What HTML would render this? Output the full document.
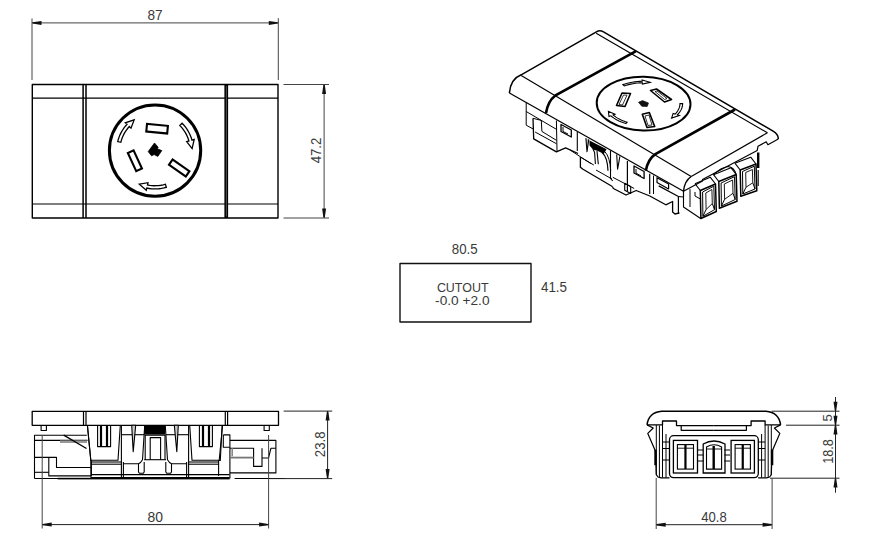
<!DOCTYPE html>
<html><head><meta charset="utf-8"><style>
html,body{margin:0;padding:0;background:#fff;width:878px;height:547px;overflow:hidden}
svg{display:block}
text{font-family:"Liberation Sans",sans-serif}
</style></head><body>
<svg width="878" height="547" viewBox="0 0 878 547">
<rect width="878" height="547" fill="#fff"/>
<polygon points="32.3,84.5 278,84.5 278,218 32.3,218" fill="none" stroke="#000" stroke-width="1.4" stroke-linejoin="round"/>
<line x1="32.3" y1="98.2" x2="278" y2="98.2" stroke="#000" stroke-width="1.2"/>
<line x1="32.3" y1="204" x2="278" y2="204" stroke="#000" stroke-width="1.2"/>
<line x1="83.1" y1="84.5" x2="83.1" y2="218" stroke="#000" stroke-width="1.5"/>
<line x1="86.0" y1="84.5" x2="86.0" y2="218" stroke="#000" stroke-width="1.5"/>
<rect x="224.4" y="84.5" width="3.7" height="133.5" fill="#000"/>
<rect x="225.9" y="86" width="0.8" height="130.5" fill="#666"/>
<circle cx="155.05" cy="150.55" r="45.65" fill="none" stroke="#000" stroke-width="3.0"/>
<rect x="146.60" y="124.90" width="21" height="7.6" fill="none" stroke="#000" stroke-width="2.1" transform="rotate(5.5 157.1 128.7)"/>
<rect x="124.90" y="157.55" width="20" height="6.3" fill="none" stroke="#000" stroke-width="2.1" transform="rotate(65.3 134.9 160.7)"/>
<rect x="168.95" y="164.85" width="20.5" height="6.3" fill="none" stroke="#000" stroke-width="2.1" transform="rotate(35 179.2 168.0)"/>
<polygon points="154.5,143 158.2,147.3 157.2,148.8 161.8,150.6 157.8,156.4 154.2,154.6 151.5,155.8 148.2,151.6" fill="#000" stroke="#000" stroke-width="0.8" stroke-linejoin="round"/>
<path d="M166.34,187.25 L163.96,187.90 L161.54,188.40 L159.09,188.74 L156.62,188.92 L154.15,188.94 L151.69,188.80 L149.23,188.51 L146.80,188.05 L146.31,190.30 L139.31,184.15 L147.99,182.68 L147.49,184.93 L149.72,185.34 L151.97,185.61 L154.23,185.74 L156.49,185.72 L158.75,185.55 L161.00,185.24 L163.21,184.79 L165.40,184.19Z" fill="#fff" stroke="#000" stroke-width="1.3" stroke-linejoin="miter"/>
<path d="M117.71,141.59 L118.36,139.20 L119.17,136.87 L120.12,134.59 L121.22,132.37 L122.46,130.24 L123.84,128.18 L125.34,126.22 L126.97,124.36 L125.28,122.79 L134.14,119.90 L130.99,128.11 L129.31,126.54 L127.82,128.25 L126.44,130.05 L125.18,131.93 L124.04,133.89 L123.04,135.92 L122.16,138.01 L121.42,140.15 L120.82,142.33Z" fill="#fff" stroke="#000" stroke-width="1.3" stroke-linejoin="miter"/>
<path d="M182.06,123.26 L183.76,125.05 L185.34,126.95 L186.80,128.95 L188.12,131.03 L189.31,133.20 L190.35,135.44 L191.25,137.74 L192.00,140.09 L194.21,139.47 L192.10,148.54 L186.71,141.59 L188.92,140.97 L188.23,138.81 L187.41,136.70 L186.45,134.64 L185.36,132.66 L184.15,130.75 L182.82,128.92 L181.37,127.17 L179.81,125.53Z" fill="#fff" stroke="#000" stroke-width="1.3" stroke-linejoin="miter"/>
<line x1="32" y1="18.5" x2="32" y2="80" stroke="#444" stroke-width="1"/>
<line x1="278.3" y1="18.2" x2="278.3" y2="80" stroke="#444" stroke-width="1"/>
<line x1="32" y1="22.9" x2="278.3" y2="22.9" stroke="#444" stroke-width="1"/>
<polygon points="32.50,22.20 41.50,20.90 41.50,24.90 32.50,23.60" fill="#111"/>
<polygon points="277.80,23.60 268.80,24.90 268.80,20.90 277.80,22.20" fill="#111"/>
<line x1="283.5" y1="84.5" x2="329" y2="84.5" stroke="#444" stroke-width="1"/>
<line x1="283.5" y1="218" x2="329" y2="218" stroke="#444" stroke-width="1"/>
<line x1="324.1" y1="84.5" x2="324.1" y2="218" stroke="#444" stroke-width="1"/>
<polygon points="324.80,85.00 326.10,94.00 322.10,94.00 323.40,85.00" fill="#111"/>
<polygon points="323.40,217.50 322.10,208.50 326.10,208.50 324.80,217.50" fill="#111"/>
<path d="M509.4,93 Q510.5,79 521.2,74.8 L596.4,31.8 Q599.8,29.8 603.5,31.8 L773.1,131.1 Q778.6,134.5 778.3,139" fill="none" stroke="#000" stroke-width="1.5" />
<path d="M596.2,33.2 L767.4,132.8" fill="none" stroke="#000" stroke-width="1.2" />
<path d="M767.4,132.8 L691.2,176.5" fill="none" stroke="#000" stroke-width="1.2" />
<path d="M521.2,75.4 L691.2,176.5" fill="none" stroke="#000" stroke-width="1.2" />
<path d="M691.2,176.5 Q684.5,181 683.5,191.2" fill="none" stroke="#000" stroke-width="1.5" />
<path d="M509.4,93 L683.5,191.2" fill="none" stroke="#000" stroke-width="1.3" />
<polyline points="683.5,191.2 702.5,181 702.5,179.5 757.2,150.5 758,146.3 766.2,141.8 767.9,144.7 778.3,139" fill="none" stroke="#000" stroke-width="1.2" stroke-linejoin="round"/>
<path d="M636,51.1 L555.1,95.7 Q548,101 546,113" fill="none" stroke="#000" stroke-width="2.6" />
<path d="M735,109.5 L655.4,154.1 Q648,159 645.8,170.7" fill="none" stroke="#000" stroke-width="2.6" />
<ellipse cx="643.6" cy="103.6" rx="46.9" ry="26.9" transform="rotate(1.2 643.6 103.6)" fill="none" stroke="#000" stroke-width="2.0"/>
<polygon points="616.5,105.5 622,93 630.5,93.5 625,106.5" fill="none" stroke="#000" stroke-width="1.6" stroke-linejoin="round"/>
<polygon points="619,104.5 623.5,95 627,95.2 622.5,105" fill="none" stroke="#000" stroke-width="0.8" stroke-linejoin="round"/>
<polygon points="650.5,90.5 656.5,89 671.5,99.5 664.5,102" fill="none" stroke="#000" stroke-width="1.6" stroke-linejoin="round"/>
<polygon points="655,91.5 657,91 667,98.5 664.5,99.5" fill="none" stroke="#000" stroke-width="0.8" stroke-linejoin="round"/>
<polygon points="642.3,114.2 649.3,112.5 654.7,126.5 647,127.5" fill="none" stroke="#000" stroke-width="1.6" stroke-linejoin="round"/>
<polygon points="645,116 649,115 652,125 648,125.5" fill="none" stroke="#000" stroke-width="0.8" stroke-linejoin="round"/>
<polygon points="638.5,102.2 642.5,100.6 648.5,103 647.2,106.6 641.8,106.3" fill="#111" stroke="#000" stroke-width="0.6" stroke-linejoin="round"/>
<path d="M622.92,84.64 L625.13,83.91 L627.42,83.26 L629.78,82.69 L632.19,82.22 L634.66,81.84 L637.16,81.55 L639.69,81.36 L642.24,81.26 L642.16,79.96 L650.15,82.33 L642.41,84.06 L642.33,82.77 L639.96,82.86 L637.60,83.04 L635.26,83.31 L632.96,83.67 L630.71,84.11 L628.51,84.63 L626.38,85.24 L624.32,85.92Z" fill="#fff" stroke="#000" stroke-width="1.1" stroke-linejoin="miter"/>
<path d="M682.62,103.60 L682.54,105.06 L682.29,106.52 L681.87,107.96 L681.29,109.39 L680.55,110.79 L679.65,112.16 L678.60,113.49 L677.39,114.78 L679.35,115.43 L671.62,118.05 L673.15,113.37 L675.11,114.02 L676.23,112.82 L677.21,111.58 L678.05,110.30 L678.74,108.99 L679.28,107.67 L679.67,106.32 L679.90,104.96 L679.98,103.60Z" fill="#fff" stroke="#000" stroke-width="1.1" stroke-linejoin="miter"/>
<path d="M625.89,123.52 L623.65,122.81 L621.50,122.02 L619.44,121.16 L617.49,120.21 L615.65,119.20 L613.93,118.12 L612.34,116.98 L610.88,115.78 L608.98,116.48 L608.40,111.34 L614.99,114.25 L613.09,114.95 L614.45,116.07 L615.94,117.14 L617.54,118.14 L619.26,119.09 L621.08,119.97 L622.99,120.78 L625.00,121.51 L627.08,122.17Z" fill="#fff" stroke="#000" stroke-width="1.1" stroke-linejoin="miter"/>
<polyline points="526.2,102.5 526.2,125.2 533.2,129" fill="none" stroke="#000" stroke-width="1.0" stroke-linejoin="round"/>
<polyline points="526.2,111.5 556.4,129.3" fill="none" stroke="#000" stroke-width="1.0" stroke-linejoin="round"/>
<polyline points="533,118.3 541.3,120.4 541.9,131.4 556.4,140.3" fill="none" stroke="#000" stroke-width="1.0" stroke-linejoin="round"/>
<polyline points="533,118.3 533.7,138.9 556.4,151.9 565.6,147.8 578.1,153.5" fill="none" stroke="#000" stroke-width="1.3" stroke-linejoin="round"/>
<polyline points="535.1,132 556.4,143.7" fill="none" stroke="#000" stroke-width="1.0" stroke-linejoin="round"/>
<polyline points="556.4,120.5 557,151.2" fill="none" stroke="#000" stroke-width="1.0" stroke-linejoin="round"/>
<polygon points="561,124.5 571.3,130 571.3,137 561,131.5" fill="none" stroke="#000" stroke-width="1.3" stroke-linejoin="round"/>
<polyline points="563,127 563,131.5 568,134" fill="none" stroke="#000" stroke-width="1.0" stroke-linejoin="round"/>
<polyline points="577.3,132.1 577.3,151" fill="none" stroke="#000" stroke-width="1.1" stroke-linejoin="round"/>
<polyline points="570,150 591,163.7" fill="none" stroke="#000" stroke-width="1.0" stroke-linejoin="round"/>
<polyline points="580.4,157 580.4,167.2 583,169.3 612.3,186.5" fill="none" stroke="#000" stroke-width="1.3" stroke-linejoin="round"/>
<polyline points="581,157.5 593.8,165" fill="none" stroke="#000" stroke-width="1.0" stroke-linejoin="round"/>
<polygon points="589.5,140.5 606.5,149.3 603.8,154 598,151 593,149.5 589.5,145.5" fill="#000"/>
<polyline points="585.9,138.2 587,151.7 588.8,139.3" fill="#bbb" stroke="#000" stroke-width="1.1" stroke-linejoin="round"/>
<polyline points="593,149 594.6,152.5 595.4,164" fill="none" stroke="#000" stroke-width="1.1" stroke-linejoin="round"/>
<polyline points="597,151 598.3,164.2" fill="none" stroke="#000" stroke-width="1.1" stroke-linejoin="round"/>
<path d="M602,152.5 Q607.5,157 608,170.8" fill="none" stroke="#000" stroke-width="1.2" />
<path d="M604.9,151.7 Q610,157 610.7,170.8" fill="none" stroke="#000" stroke-width="1.0" />
<polyline points="616.7,154.5 617.6,169.2 619.9,156.4" fill="none" stroke="#000" stroke-width="1.1" stroke-linejoin="round"/>
<polyline points="627.4,161 627.4,191.5" fill="none" stroke="#000" stroke-width="1.2" stroke-linejoin="round"/>
<polyline points="612.3,186.5 613.4,188.5 626,195 636.2,190.5 649.8,196" fill="none" stroke="#000" stroke-width="1.3" stroke-linejoin="round"/>
<polygon points="634,166 644.1,171.5 644.1,178.5 634,173" fill="none" stroke="#000" stroke-width="1.3" stroke-linejoin="round"/>
<polyline points="636,169 636,173 641,176" fill="none" stroke="#000" stroke-width="1.0" stroke-linejoin="round"/>
<polyline points="596,170 612,179" fill="none" stroke="#000" stroke-width="1.0" stroke-linejoin="round"/>
<polyline points="610.5,150.5 610.5,178.5 612.8,181" fill="none" stroke="#000" stroke-width="1.1" stroke-linejoin="round"/>
<polygon points="624.7,183.3 630.7,186.5 630.7,193.4 624.7,190.2" fill="none" stroke="#000" stroke-width="1.1" stroke-linejoin="round"/>
<polyline points="612.8,177.3 634.2,188.5" fill="none" stroke="#000" stroke-width="1.0" stroke-linejoin="round"/>
<polyline points="649.7,173.8 649.7,194.1" fill="none" stroke="#000" stroke-width="1.2" stroke-linejoin="round"/>
<polyline points="653.5,175.5 653.5,194" fill="none" stroke="#000" stroke-width="1.0" stroke-linejoin="round"/>
<polygon points="657,177.7 668.6,184 668.6,189 657,182.5" fill="none" stroke="#000" stroke-width="1.2" stroke-linejoin="round"/>
<polyline points="658.7,185.9 678.4,196.5 678.4,213.9" fill="none" stroke="#000" stroke-width="1.2" stroke-linejoin="round"/>
<polyline points="649.8,196 665.8,204.8 672.6,201.5 672.6,212 675,214 679.5,212.8" fill="none" stroke="#000" stroke-width="1.3" stroke-linejoin="round"/>
<polyline points="683.5,191.2 683.5,197 678.4,196.5" fill="none" stroke="#000" stroke-width="1.1" stroke-linejoin="round"/>
<polyline points="734.9000000000001,163.2 750.7,157.2 756,164" fill="none" stroke="#000" stroke-width="1.1" stroke-linejoin="round"/>
<polygon points="740.2,170 756,164 756.8,190.8 740.8000000000001,196.2" fill="#fff" stroke="#000" stroke-width="1.5" stroke-linejoin="round"/>
<polyline points="740.2,170 734.9000000000001,163.2" fill="none" stroke="#000" stroke-width="1.1" stroke-linejoin="round"/>
<polygon points="742.5,171.5 754.3,166.2 755.0,189.0 742.8000000000001,194.0" fill="none" stroke="#000" stroke-width="1.0" stroke-linejoin="round"/>
<polygon points="745.7,172.5 752.4,169.5 752.8,182.8 746.0,187.2" fill="none" stroke="#000" stroke-width="0.9" stroke-linejoin="round"/>
<polyline points="746.0,187.2 742.8000000000001,194.0" fill="none" stroke="#000" stroke-width="1.0" stroke-linejoin="round"/>
<polyline points="752.8,182.8 755.0,189.0" fill="none" stroke="#000" stroke-width="1.0" stroke-linejoin="round"/>
<polyline points="713.5,174.7 730.9000000000001,167.7 736.2,174.5" fill="none" stroke="#000" stroke-width="1.1" stroke-linejoin="round"/>
<polygon points="718.8,181.5 736.2,174.5 737.0,201.3 719.4,208.3" fill="#fff" stroke="#000" stroke-width="1.5" stroke-linejoin="round"/>
<polyline points="718.8,181.5 713.5,174.7" fill="none" stroke="#000" stroke-width="1.1" stroke-linejoin="round"/>
<polygon points="721.0999999999999,183.0 734.5,176.7 735.2,199.5 721.4,206.10000000000002" fill="none" stroke="#000" stroke-width="1.0" stroke-linejoin="round"/>
<polygon points="724.3,184.0 732.6,180.0 733.0,193.3 724.5999999999999,199.3" fill="none" stroke="#000" stroke-width="0.9" stroke-linejoin="round"/>
<polyline points="724.5999999999999,199.3 721.4,206.10000000000002" fill="none" stroke="#000" stroke-width="1.0" stroke-linejoin="round"/>
<polyline points="733.0,193.3 735.2,199.5" fill="none" stroke="#000" stroke-width="1.0" stroke-linejoin="round"/>
<polyline points="695.0,183.7 710.2,177.2 715.5,184" fill="none" stroke="#000" stroke-width="1.1" stroke-linejoin="round"/>
<polygon points="700.3,190.5 715.5,184 716.3,211.5 700.9,218.5" fill="#fff" stroke="#000" stroke-width="1.5" stroke-linejoin="round"/>
<polyline points="700.3,190.5 695.0,183.7" fill="none" stroke="#000" stroke-width="1.1" stroke-linejoin="round"/>
<polygon points="702.5999999999999,192.0 713.8,186.2 714.5,209.7 702.9,216.3" fill="none" stroke="#000" stroke-width="1.0" stroke-linejoin="round"/>
<polygon points="705.8,193.0 711.9,189.5 712.3,203.5 706.0999999999999,209.5" fill="none" stroke="#000" stroke-width="0.9" stroke-linejoin="round"/>
<polyline points="706.0999999999999,209.5 702.9,216.3" fill="none" stroke="#000" stroke-width="1.0" stroke-linejoin="round"/>
<polyline points="712.3,203.5 714.5,209.7" fill="none" stroke="#000" stroke-width="1.0" stroke-linejoin="round"/>
<path d="M713.5,174.7 Q721,167.5 728,166.5 Q734,167 736.2,174.5" fill="none" stroke="#000" stroke-width="1.1" />
<polyline points="758.2,152.5 758.2,168" fill="none" stroke="#000" stroke-width="2.4" stroke-linejoin="round"/>
<polyline points="758.2,170 758.2,186" fill="none" stroke="#000" stroke-width="1.1" stroke-linejoin="round"/>
<polyline points="683.5,191.2 683.5,207 701,218.7" fill="none" stroke="#000" stroke-width="1.1" stroke-linejoin="round"/>
<polyline points="690,189.1 690,207" fill="none" stroke="#000" stroke-width="1.0" stroke-linejoin="round"/>
<polyline points="695,192 695,196 700.4,199" fill="none" stroke="#000" stroke-width="1.0" stroke-linejoin="round"/>
<polygon points="400,263.5 531,263.5 531,322 400,322" fill="none" stroke="#111" stroke-width="1.4" stroke-linejoin="round"/>
<polygon points="32.2,411.3 278.5,411.3 278.5,425.3 32.2,425.3" fill="none" stroke="#000" stroke-width="1.3" stroke-linejoin="round"/>
<line x1="83.5" y1="411.3" x2="83.5" y2="425.3" stroke="#000" stroke-width="1.2"/>
<line x1="86.0" y1="411.3" x2="86.0" y2="425.3" stroke="#000" stroke-width="1.2"/>
<line x1="225.3" y1="411.3" x2="225.3" y2="425.3" stroke="#000" stroke-width="1.2"/>
<line x1="227.6" y1="411.3" x2="227.6" y2="425.3" stroke="#000" stroke-width="1.2"/>
<polyline points="41.1,425.3 41.1,430.5 46.4,430.5 46.4,425.3" fill="none" stroke="#000" stroke-width="1.1" stroke-linejoin="round"/>
<polyline points="264.1,425.3 264.1,430.5 269.3,430.5 269.3,425.3" fill="none" stroke="#000" stroke-width="1.1" stroke-linejoin="round"/>
<polyline points="34.5,478.5 34.5,435.2 86.8,435.2" fill="none" stroke="#000" stroke-width="1.1" stroke-linejoin="round"/>
<polyline points="34.5,440.4 87.5,440.4" fill="none" stroke="#000" stroke-width="1.1" stroke-linejoin="round"/>
<rect x="60" y="440.4" width="27" height="2.6" fill="#999"/>
<polyline points="63.7,435.2 86.5,448.5" fill="none" stroke="#000" stroke-width="1.4" stroke-linejoin="round"/>
<polyline points="34.5,457.4 56.5,457.4 56.5,467.5 91,467.5" fill="none" stroke="#000" stroke-width="1.1" stroke-linejoin="round"/>
<polyline points="48.8,457.4 48.8,475.9 91,475.9" fill="none" stroke="#000" stroke-width="1.1" stroke-linejoin="round"/>
<polyline points="34.5,472.3 48.8,472.3" fill="none" stroke="#000" stroke-width="1.1" stroke-linejoin="round"/>
<polyline points="34.5,478.5 91,478.5" fill="none" stroke="#000" stroke-width="1.1" stroke-linejoin="round"/>
<polyline points="87.4,425.3 90.8,460.2 91,478.5" fill="none" stroke="#000" stroke-width="1.1" stroke-linejoin="round"/>
<polyline points="87.4,425.3 90.8,460.2 118,460.2 120.3,425.3" fill="none" stroke="#000" stroke-width="1.1" stroke-linejoin="round"/>
<polyline points="222.6,425.3 219.2,460.2 192.0,460.2 189.7,425.3" fill="none" stroke="#000" stroke-width="1.1" stroke-linejoin="round"/>
<polyline points="97.6,425.3 97.6,446.6 110.6,446.6 110.6,425.3" fill="none" stroke="#000" stroke-width="1.1" stroke-linejoin="round"/>
<polyline points="212.4,425.3 212.4,446.6 199.4,446.6 199.4,425.3" fill="none" stroke="#000" stroke-width="1.1" stroke-linejoin="round"/>
<polyline points="101,425.3 101,446.6" fill="none" stroke="#000" stroke-width="2.2" stroke-linejoin="round"/>
<polyline points="209.0,425.3 209.0,446.6" fill="none" stroke="#000" stroke-width="2.2" stroke-linejoin="round"/>
<polyline points="107,425.3 107,446.6" fill="none" stroke="#000" stroke-width="2.2" stroke-linejoin="round"/>
<polyline points="203.0,425.3 203.0,446.6" fill="none" stroke="#000" stroke-width="2.2" stroke-linejoin="round"/>
<polyline points="91.4,462 121.4,462" fill="none" stroke="#000" stroke-width="1.1" stroke-linejoin="round"/>
<polyline points="218.6,462 188.6,462" fill="none" stroke="#000" stroke-width="1.1" stroke-linejoin="round"/>
<polyline points="91.4,464.2 121.4,464.2" fill="none" stroke="#000" stroke-width="1.1" stroke-linejoin="round"/>
<polyline points="218.6,464.2 188.6,464.2" fill="none" stroke="#000" stroke-width="1.1" stroke-linejoin="round"/>
<polyline points="91.4,460.2 91.4,476" fill="none" stroke="#000" stroke-width="1.1" stroke-linejoin="round"/>
<polyline points="218.6,460.2 218.6,476" fill="none" stroke="#000" stroke-width="1.1" stroke-linejoin="round"/>
<polyline points="121.4,425.3 121.4,478" fill="none" stroke="#000" stroke-width="1.1" stroke-linejoin="round"/>
<polyline points="188.6,425.3 188.6,478" fill="none" stroke="#000" stroke-width="1.1" stroke-linejoin="round"/>
<polyline points="123.4,462 123.4,478" fill="none" stroke="#000" stroke-width="1.1" stroke-linejoin="round"/>
<polyline points="186.6,462 186.6,478" fill="none" stroke="#000" stroke-width="1.1" stroke-linejoin="round"/>
<polyline points="121.4,434.7 144.2,434.7" fill="none" stroke="#000" stroke-width="1.1" stroke-linejoin="round"/>
<polyline points="188.6,434.7 165.8,434.7" fill="none" stroke="#000" stroke-width="1.1" stroke-linejoin="round"/>
<polyline points="144.7,425.7 142.5,459.7 140.5,462.5 138.5,463.7 123.4,463.7" fill="none" stroke="#000" stroke-width="1.1" stroke-linejoin="round"/>
<polyline points="165.3,425.7 167.5,459.7 169.5,462.5 171.5,463.7 186.6,463.7" fill="none" stroke="#000" stroke-width="1.1" stroke-linejoin="round"/>
<polygon points="131.7,425.3 133.2,451.7 135.7,425.3" fill="#ccc" stroke="#000" stroke-width="1.1" stroke-linejoin="round"/>
<polygon points="178.3,425.3 176.8,451.7 174.3,425.3" fill="#ccc" stroke="#000" stroke-width="1.1" stroke-linejoin="round"/>
<polyline points="138.5,463.7 138.5,472 139.5,473.3 143.2,473.3 144.2,472 144.2,462" fill="none" stroke="#000" stroke-width="1.1" stroke-linejoin="round"/>
<polyline points="171.5,463.7 171.5,472 170.5,473.3 166.8,473.3 165.8,472 165.8,462" fill="none" stroke="#000" stroke-width="1.1" stroke-linejoin="round"/>
<rect x="144.2" y="425.3" width="20.9" height="9.4" fill="#000"/>
<polyline points="145.2,459.7 145.2,435.3 165,435.3 165,459.7" fill="none" stroke="#000" stroke-width="1.1" stroke-linejoin="round"/>
<polyline points="150.2,459.7 150.2,437.6 160.6,437.6 160.6,459.7" fill="none" stroke="#000" stroke-width="1.1" stroke-linejoin="round"/>
<polyline points="144.2,459.7 166,459.7" fill="none" stroke="#000" stroke-width="1.1" stroke-linejoin="round"/>
<polyline points="91,474.6 229.5,474.6" fill="none" stroke="#000" stroke-width="1.1" stroke-linejoin="round"/>
<polyline points="91,477.5 229.5,477.5" fill="none" stroke="#000" stroke-width="1.1" stroke-linejoin="round"/>
<rect x="57.7" y="477.8" width="172" height="1.6" fill="#000"/>
<polyline points="222.1,425.9 220.3,460.4 219,460.4" fill="none" stroke="#000" stroke-width="1.1" stroke-linejoin="round"/>
<polyline points="223.3,434.9 229.9,434.9 229.9,478.5" fill="none" stroke="#000" stroke-width="1.1" stroke-linejoin="round"/>
<polyline points="223.3,434.9 223.3,447.3 229.9,447.3" fill="none" stroke="#000" stroke-width="1.1" stroke-linejoin="round"/>
<polyline points="229.9,440.4 275.9,440.4 275.9,472.9 229.9,472.9" fill="none" stroke="#000" stroke-width="1.1" stroke-linejoin="round"/>
<polyline points="229.9,448.3 253.6,448.3 253.6,466.4 262,466.4 262,448.3" fill="none" stroke="#000" stroke-width="1.1" stroke-linejoin="round"/>
<polyline points="262,458 268.5,458 270.9,448.3 275.9,448.3" fill="none" stroke="#000" stroke-width="1.1" stroke-linejoin="round"/>
<rect x="231.4" y="448.3" width="1.6" height="8" fill="#888"/>
<rect x="229.9" y="456.7" width="23.7" height="1.8" fill="#777"/>
<polyline points="234.6,478.5 285,478.5" fill="none" stroke="#000" stroke-width="1.1" stroke-linejoin="round"/>
<line x1="283.7" y1="411.1" x2="332.2" y2="411.1" stroke="#222" stroke-width="1"/>
<line x1="270" y1="478.6" x2="332.2" y2="478.6" stroke="#222" stroke-width="1"/>
<line x1="327.6" y1="411.1" x2="327.6" y2="478.6" stroke="#222" stroke-width="1"/>
<polygon points="328.30,411.60 329.60,420.60 325.60,420.60 326.90,411.60" fill="#111"/>
<polygon points="326.90,478.10 325.60,469.10 329.60,469.10 328.30,478.10" fill="#111"/>
<line x1="42.2" y1="435.5" x2="42.2" y2="528.5" stroke="#444" stroke-width="1"/>
<line x1="268.6" y1="435" x2="268.6" y2="528.5" stroke="#444" stroke-width="1"/>
<line x1="42.2" y1="524.6" x2="268.6" y2="524.6" stroke="#222" stroke-width="1"/>
<polygon points="42.70,523.90 51.70,522.60 51.70,526.60 42.70,525.30" fill="#111"/>
<polygon points="268.10,525.30 259.10,526.60 259.10,522.60 268.10,523.90" fill="#111"/>
<path d="M647,424.9 C648,417 652,412 661.7,411.2 L765.9,411.2 C775.6,412 779.6,417 780.6,424.9" fill="none" stroke="#000" stroke-width="1.5" />
<polyline points="647,424.9 662.5,424.9 662.5,421 676.5,421 676.5,425.6 681.2,425.6 713.8,425.6" fill="none" stroke="#000" stroke-width="1.3" stroke-linejoin="round"/>
<polyline points="780.5999999999999,424.9 765.0999999999999,424.9 765.0999999999999,421 751.0999999999999,421 751.0999999999999,425.6 746.3999999999999,425.6 713.8,425.6" fill="none" stroke="#000" stroke-width="1.3" stroke-linejoin="round"/>
<polyline points="681.2,425.6 681.2,430.3 713.8,430.3" fill="none" stroke="#000" stroke-width="1.2" stroke-linejoin="round"/>
<polyline points="746.3999999999999,425.6 746.3999999999999,430.3 713.8,430.3" fill="none" stroke="#000" stroke-width="1.2" stroke-linejoin="round"/>
<rect x="669.5" y="435.7" width="88.8" height="41.9" rx="4" fill="none" stroke="#000" stroke-width="1.3"/>
<rect x="673.4" y="440.4" width="24.100000000000023" height="32.6" fill="none" stroke="#000" stroke-width="1.3"/>
<rect x="677.4" y="444.6" width="16.100000000000023" height="24.5" fill="none" stroke="#000" stroke-width="1.1"/>
<rect x="684.35" y="445" width="2.2" height="24" fill="#000"/>
<line x1="677.4" y1="448.2" x2="693.5" y2="448.2" stroke="#000" stroke-width="0.9"/>
<rect x="731.1" y="440.4" width="23.299999999999955" height="32.6" fill="none" stroke="#000" stroke-width="1.3"/>
<rect x="735.1" y="444.6" width="15.299999999999955" height="24.5" fill="none" stroke="#000" stroke-width="1.1"/>
<rect x="741.65" y="445" width="2.2" height="24" fill="#000"/>
<line x1="735.1" y1="448.2" x2="750.4" y2="448.2" stroke="#000" stroke-width="0.9"/>
<path d="M703.2,473 L703.2,444 Q714,438 725,444 L725,473 Z" fill="none" stroke="#000" stroke-width="1.3" />
<path d="M706.5,469.1 L706.5,447 Q714,442.5 721.6,447 L721.6,469.1 Z" fill="none" stroke="#000" stroke-width="1.1" />
<rect x="712.5" y="446" width="2.4" height="23" fill="#000"/>
<line x1="706.5" y1="449" x2="721.6" y2="449" stroke="#000" stroke-width="0.9"/>
<polyline points="647,424.9 653.2,428 647.8,433.4 655.5,451.3 656.3,474.6 658,477 661,477.8 669.5,477.8" fill="none" stroke="#000" stroke-width="1.2" stroke-linejoin="round"/>
<polyline points="780.5999999999999,424.9 774.3999999999999,428 779.8,433.4 772.0999999999999,451.3 771.3,474.6 769.5999999999999,477 766.5999999999999,477.8 758.0999999999999,477.8" fill="none" stroke="#000" stroke-width="1.2" stroke-linejoin="round"/>
<polyline points="656.3,425 656.3,474.6" fill="none" stroke="#000" stroke-width="1.0" stroke-linejoin="round"/>
<polyline points="771.3,425 771.3,474.6" fill="none" stroke="#000" stroke-width="1.0" stroke-linejoin="round"/>
<polyline points="659.4,425.5 659.4,477.5" fill="none" stroke="#000" stroke-width="1.0" stroke-linejoin="round"/>
<polyline points="768.1999999999999,425.5 768.1999999999999,477.5" fill="none" stroke="#000" stroke-width="1.0" stroke-linejoin="round"/>
<polyline points="662.5,425 662.5,477.5" fill="none" stroke="#000" stroke-width="1.0" stroke-linejoin="round"/>
<polyline points="765.0999999999999,425 765.0999999999999,477.5" fill="none" stroke="#000" stroke-width="1.0" stroke-linejoin="round"/>
<polyline points="666,434 666,477.5" fill="none" stroke="#000" stroke-width="1.0" stroke-linejoin="round"/>
<polyline points="761.5999999999999,434 761.5999999999999,477.5" fill="none" stroke="#000" stroke-width="1.0" stroke-linejoin="round"/>
<polyline points="655.5,449.7 655.5,465.2" fill="none" stroke="#000" stroke-width="2.4" stroke-linejoin="round"/>
<polyline points="772.0999999999999,449.7 772.0999999999999,465.2" fill="none" stroke="#000" stroke-width="2.4" stroke-linejoin="round"/>
<polyline points="662.5,442 669.5,442" fill="none" stroke="#000" stroke-width="1.0" stroke-linejoin="round"/>
<polyline points="765.0999999999999,442 758.0999999999999,442" fill="none" stroke="#000" stroke-width="1.0" stroke-linejoin="round"/>
<polyline points="662.5,448.5 669.5,448.5" fill="none" stroke="#000" stroke-width="1.0" stroke-linejoin="round"/>
<polyline points="765.0999999999999,448.5 758.0999999999999,448.5" fill="none" stroke="#000" stroke-width="1.0" stroke-linejoin="round"/>
<polyline points="662.5,460 669.5,460" fill="none" stroke="#000" stroke-width="1.0" stroke-linejoin="round"/>
<polyline points="765.0999999999999,460 758.0999999999999,460" fill="none" stroke="#000" stroke-width="1.0" stroke-linejoin="round"/>
<polyline points="697.5,450 703.2,450" fill="none" stroke="#000" stroke-width="1.0" stroke-linejoin="round"/>
<polyline points="730.0999999999999,450 724.3999999999999,450" fill="none" stroke="#000" stroke-width="1.0" stroke-linejoin="round"/>
<polyline points="697.5,455 703.2,455" fill="none" stroke="#000" stroke-width="1.0" stroke-linejoin="round"/>
<polyline points="730.0999999999999,455 724.3999999999999,455" fill="none" stroke="#000" stroke-width="1.0" stroke-linejoin="round"/>
<polyline points="697.5,461 703.2,461" fill="none" stroke="#000" stroke-width="1.0" stroke-linejoin="round"/>
<polyline points="730.0999999999999,461 724.3999999999999,461" fill="none" stroke="#000" stroke-width="1.0" stroke-linejoin="round"/>
<line x1="771.7" y1="411.2" x2="839.5" y2="411.2" stroke="#222" stroke-width="1"/>
<line x1="786" y1="425.2" x2="839.5" y2="425.2" stroke="#222" stroke-width="1"/>
<line x1="770" y1="478.2" x2="839.5" y2="478.2" stroke="#222" stroke-width="1"/>
<line x1="835.5" y1="397" x2="835.5" y2="492.7" stroke="#222" stroke-width="1"/>
<polygon points="834.80,410.80 833.50,401.80 837.50,401.80 836.20,410.80" fill="#111"/>
<polygon points="834.80,424.80 833.50,415.80 837.50,415.80 836.20,424.80" fill="#111"/>
<polygon points="836.20,425.60 837.50,434.60 833.50,434.60 834.80,425.60" fill="#111"/>
<polygon points="836.20,478.60 837.50,487.60 833.50,487.60 834.80,478.60" fill="#111"/>
<line x1="656.2" y1="478" x2="656.2" y2="529" stroke="#444" stroke-width="1"/>
<line x1="772.1" y1="478" x2="772.1" y2="529" stroke="#444" stroke-width="1"/>
<line x1="656.2" y1="524.7" x2="772.1" y2="524.7" stroke="#222" stroke-width="1"/>
<polygon points="656.70,524.00 665.70,522.70 665.70,526.70 656.70,525.40" fill="#111"/>
<polygon points="771.60,525.40 762.60,526.70 762.60,522.70 771.60,524.00" fill="#111"/>
<text x="155" y="20.2" font-size="14" text-anchor="middle" fill="#3a3a3a" textLength="15.2" lengthAdjust="spacingAndGlyphs">87</text>
<text x="321.3" y="150.5" font-size="14" text-anchor="middle" fill="#3a3a3a" textLength="25.7" lengthAdjust="spacingAndGlyphs" transform="rotate(-90 321.3 150.5)">47.2</text>
<text x="464.7" y="253.9" font-size="14" text-anchor="middle" fill="#3a3a3a" textLength="25.8" lengthAdjust="spacingAndGlyphs">80.5</text>
<text x="554" y="292" font-size="14" text-anchor="middle" fill="#3a3a3a" textLength="26" lengthAdjust="spacingAndGlyphs">41.5</text>
<text x="462.7" y="292" font-size="13.5" text-anchor="middle" fill="#3a3a3a" textLength="51.6" lengthAdjust="spacingAndGlyphs">CUTOUT</text>
<text x="462.3" y="305.2" font-size="13.5" text-anchor="middle" fill="#3a3a3a" textLength="54.4" lengthAdjust="spacingAndGlyphs">-0.0 +2.0</text>
<text x="324.9" y="444.3" font-size="14" text-anchor="middle" fill="#3a3a3a" textLength="25.7" lengthAdjust="spacingAndGlyphs" transform="rotate(-90 324.9 444.3)">23.8</text>
<text x="155.2" y="522.1" font-size="14" text-anchor="middle" fill="#3a3a3a" textLength="15.5" lengthAdjust="spacingAndGlyphs">80</text>
<text x="831.9" y="417.85" font-size="13" text-anchor="middle" fill="#3a3a3a" transform="rotate(-90 831.9 417.85)">5</text>
<text x="833" y="451.4" font-size="14" text-anchor="middle" fill="#3a3a3a" textLength="24.6" lengthAdjust="spacingAndGlyphs" transform="rotate(-90 833 451.4)">18.8</text>
<text x="714" y="522.1" font-size="14" text-anchor="middle" fill="#3a3a3a" textLength="25.5" lengthAdjust="spacingAndGlyphs">40.8</text>
</svg>
</body></html>
